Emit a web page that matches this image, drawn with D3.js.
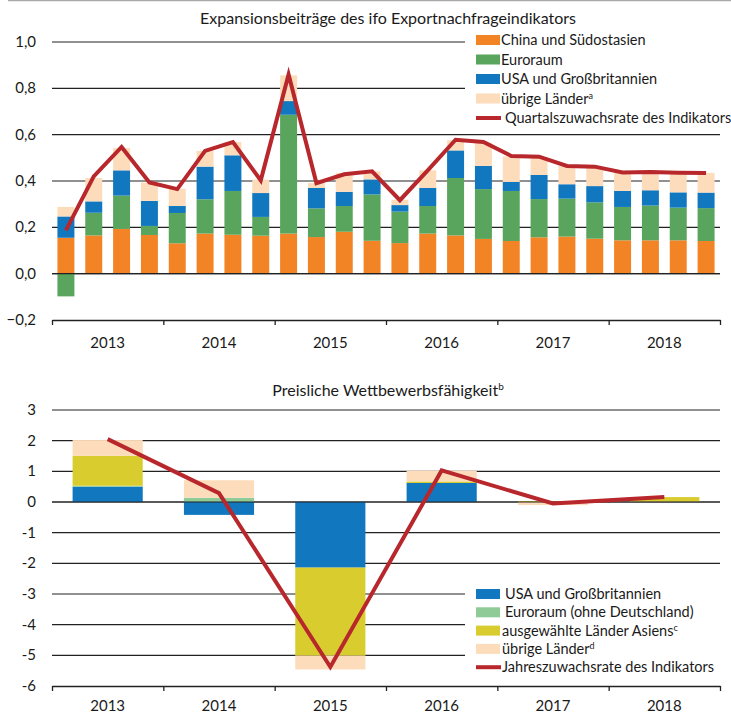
<!DOCTYPE html>
<html>
<head>
<meta charset="utf-8">
<script src="https://cdn.jsdelivr.net/npm/d3@7"></script>
<style>
  body { margin: 0; background: #fff; }
  svg text { font-family: Lato, "Open Sans", sans-serif; fill: #1a1a1a; }
</style>
</head>
<body>
<div id="chart"></div>
<script>
// ---- data: top panel (quarterly contributions) ----
var quarters = ["2013Q1","2013Q2","2013Q3","2013Q4","2014Q1","2014Q2","2014Q3","2014Q4",
                "2015Q1","2015Q2","2015Q3","2015Q4","2016Q1","2016Q2","2016Q3","2016Q4",
                "2017Q1","2017Q2","2017Q3","2017Q4","2018Q1","2018Q2","2018Q3","2018Q4"];
var chinaSO  = [0.155,0.165,0.193,0.167, 0.131,0.173,0.168,0.164, 0.173,0.158,0.181,0.142,
                0.132,0.173,0.165,0.150, 0.141,0.157,0.160,0.151, 0.144,0.144,0.144,0.141];
var euroraum = [-0.098,0.098,0.144,0.039, 0.131,0.148,0.189,0.081, 0.513,0.124,0.111,0.200,
                0.136,0.119,0.248,0.215, 0.216,0.165,0.164,0.157, 0.144,0.150,0.141,0.142];
var usaGB    = [0.092,0.049,0.109,0.108, 0.030,0.141,0.154,0.103, 0.059,0.088,0.061,0.065,
                0.028,0.078,0.119,0.100, 0.039,0.104,0.062,0.070, 0.069,0.066,0.066,0.067];
var uebrige  = [0.041,0.101,0.096,0.079, 0.075,0.068,0.057,0.058, 0.111,0.021,0.082,0.035,
                0.023,0.076,0.044,0.100, 0.110,0.078,0.079,0.080, 0.079,0.079,0.084,0.085];
var quartalsRate = [0.187,0.42,0.547,0.394, 0.365,0.53,0.568,0.403, 0.86,0.391,0.429,0.442,
                    0.317,0.446,0.578,0.568, 0.508,0.505,0.465,0.462, 0.437,0.439,0.436,0.435];
var topTicks = [-0.2,0,0.2,0.4,0.6,0.8,1.0];

// ---- data: bottom panel (price competitiveness, yearly) ----
var years = ["2013","2014","2015","2016","2017","2018"];
var usaGB2    = [0.50,-0.42,-2.14,0.62,0,0];
var euroraum2 = [0.03,0.14,0,0,0,0.01];
var asien2    = [0.98,0,-2.87,0.05,0.03,0.15];
var uebrige2  = [0.51,0.57,-0.45,0.35,-0.10,0];
var jahresRate = [2.05,0.29,-5.38,1.03,-0.05,0.16];
var bottomTicks = [-6,-5,-4,-3,-2,-1,0,1,2,3];

var col = {orange: "#f28426", green: "#5aa55d", blue: "#1177bf", peach: "#fddcbc",
           red: "#b7272c", lgreen: "#8ecb97", yellow: "#d9cc2f"};

var W = 731, H = 715, x0 = 52, x1 = 720;

var svg = d3.select("#chart").append("svg")
  .attr("width", W).attr("height", H);

svg.append("line")
  .attr("x1", 8).attr("x2", W).attr("y1", 0.5).attr("y2", 0.5)
  .attr("stroke", "#aaa").attr("stroke-width", 1.5);

var fmtTop = function(d) { return d3.format(".1f")(d).replace(".", ","); };

function panel(cfg) {
  var g = svg.append("g");
  var x = d3.scaleBand().domain(cfg.cats).range([x0, x1])
    .paddingInner(cfg.pad).paddingOuter(cfg.pad / 2);
  var y = d3.scaleLinear().domain(cfg.domain).range(cfg.yRange);

  g.append("text").attr("x", 388).attr("y", cfg.titleY)
    .attr("text-anchor", "middle").style("font-size", "16px")
    .text(cfg.title)
    .call(function(t) {
      if (cfg.titleSup) t.append("tspan").attr("dy", -6).style("font-size", "10px").text(cfg.titleSup);
    });

  // gridlines
  g.selectAll(".grid").data(cfg.ticks.slice(1)).enter().append("line")
    .attr("x1", x0).attr("x2", x1)
    .attr("y1", function(d) { return y(d); }).attr("y2", function(d) { return y(d); })
    .attr("stroke", "#222").attr("stroke-width", 1.2);

  // y labels
  g.selectAll(".ylab").data(cfg.ticks).enter().append("text")
    .attr("x", 36).attr("y", function(d) { return y(d) + 5; })
    .attr("text-anchor", "end").style("font-size", "15px")
    .text(cfg.fmt);

  // legend background hides gridlines
  g.append("rect").attr("x", 465).attr("y", cfg.legY - 11)
    .attr("width", W - 465).attr("height", cfg.legend.length * cfg.legStep + 2)
    .attr("fill", "#fff");

  // stacked bars
  var rows = cfg.cats.map(function(c, i) {
    var r = {cat: c};
    cfg.keys.forEach(function(k, j) { r[k] = cfg.series[j][i]; });
    return r;
  });
  var stack = d3.stack().keys(cfg.keys).offset(d3.stackOffsetDiverging)(rows);
  g.selectAll(".layer").data(stack).enter().append("g")
    .attr("fill", function(d, i) { return cfg.colors[i]; })
    .selectAll("rect").data(function(d) { return d; }).enter().append("rect")
    .attr("x", function(d) { return x(d.data.cat); })
    .attr("width", x.bandwidth())
    .attr("y", function(d) { return y(Math.max(d[0], d[1])); })
    .attr("height", function(d) { return Math.abs(y(d[0]) - y(d[1])); });

  // zero line over the bars
  g.append("line").attr("x1", x0).attr("x2", x1)
    .attr("y1", y(0)).attr("y2", y(0))
    .attr("stroke", "#222").attr("stroke-width", 1.2);

  // rate line
  var line = d3.line()
    .x(function(d, i) { return x(cfg.cats[i]) + x.bandwidth() / 2; })
    .y(function(d) { return y(d); });
  g.append("path").datum(cfg.rate)
    .attr("d", line).attr("fill", "none")
    .attr("stroke", col.red).attr("stroke-width", 4)
    .attr("stroke-linejoin", "miter");

  // year axis with ticks on year boundaries
  var yr = d3.scaleLinear().domain([2013, 2019]).range([x0, x1]);
  g.append("g").attr("transform", "translate(0," + y(cfg.domain[0]) + ")")
    .call(d3.axisBottom(yr).tickValues(d3.range(2013, 2020)).tickSize(5)
      .tickSizeOuter(0).tickFormat(""))
    .call(function(a) {
      a.select(".domain").attr("stroke", "#222").attr("stroke-width", 1.3);
      a.selectAll(".tick line").attr("stroke", "#222").attr("stroke-width", 1.3);
    });
  g.selectAll(".xlab").data(years).enter().append("text")
    .attr("x", function(d) { return yr(+d + 0.5); })
    .attr("y", cfg.yearY).attr("text-anchor", "middle").style("font-size", "15px")
    .text(function(d) { return d; });

  // legend
  var li = g.selectAll(".leg").data(cfg.legend).enter().append("g")
    .attr("transform", function(d, i) { return "translate(476," + (cfg.legY + i * cfg.legStep) + ")"; });
  li.each(function(d) {
    var e = d3.select(this);
    if (d.line) {
      e.append("line").attr("x1", 0).attr("x2", 25).attr("y1", 0).attr("y2", 0)
        .attr("stroke", d.color).attr("stroke-width", 4);
    } else {
      e.append("rect").attr("x", 0).attr("y", -5).attr("width", 24).attr("height", 10)
        .attr("fill", d.color);
    }
    var t = e.append("text").attr("x", d.tx).attr("y", 5).style("font-size", "14.5px").text(d.label);
    if (d.sup) t.append("tspan").attr("dy", -5).style("font-size", "9px").text(d.sup);
  });
}

panel({
  cats: quarters, pad: 0.39, domain: [-0.2, 1.0], yRange: [320, 42],
  ticks: topTicks, fmt: fmtTop,
  title: "Expansionsbeiträge des ifo Exportnachfrageindikators", titleY: 24,
  keys: ["china", "euro", "usa", "rest"],
  series: [chinaSO, euroraum, usaGB, uebrige],
  colors: [col.orange, col.green, col.blue, col.peach],
  rate: quartalsRate, yearY: 348, legY: 40, legStep: 19.5,
  legend: [
    {label: "China und Südostasien", color: col.orange, tx: 25},
    {label: "Euroraum", color: col.green, tx: 25},
    {label: "USA und Großbritannien", color: col.blue, tx: 25},
    {label: "übrige Länder", sup: "a", color: col.peach, tx: 25},
    {label: "Quartalszuwachsrate des Indikators", color: col.red, line: true, tx: 29}
  ]
});

panel({
  cats: years, pad: 0.37, domain: [-6, 3], yRange: [686, 410],
  ticks: bottomTicks, fmt: function(d) { return d; },
  title: "Preisliche Wettbewerbsfähigkeit", titleSup: "b", titleY: 396,
  keys: ["usa", "euro", "asien", "rest"],
  series: [usaGB2, euroraum2, asien2, uebrige2],
  colors: [col.blue, col.lgreen, col.yellow, col.peach],
  rate: jahresRate, yearY: 711, legY: 594, legStep: 18.3,
  legend: [
    {label: "USA und Großbritannien", color: col.blue, tx: 29},
    {label: "Euroraum (ohne Deutschland)", color: col.lgreen, tx: 29},
    {label: "ausgewählte Länder Asiens", sup: "c", color: col.yellow, tx: 26},
    {label: "übrige Länder", sup: "d", color: col.peach, tx: 26},
    {label: "Jahreszuwachsrate des Indikators", color: col.red, line: true, tx: 26}
  ]
});
</script>
</body>
</html>
